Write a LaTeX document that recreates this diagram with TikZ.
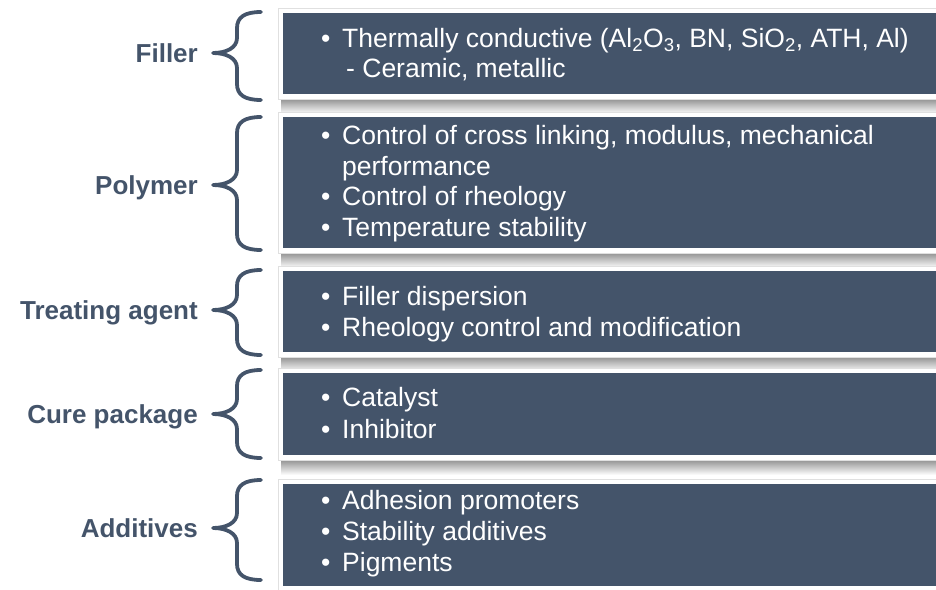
\documentclass[tikz,border=0pt]{standalone}
\usepackage{fontspec}
\setmainfont{Liberation Sans}
\definecolor{slate}{HTML}{44546A}
\tikzset{
  framebox/.style={fill=white, draw=black!12, line width=0.6pt},
  darkbox/.style={fill=slate},
  shadowbar/.style={top color=black!42, bottom color=white},
  lbl/.style={anchor=base east, inner sep=0pt, text=slate, font=\fontsize{26}{30}\selectfont\bfseries},
  txt/.style={anchor=base west, inner sep=0pt, text=white, font=\fontsize{26.5}{30.5}\selectfont},
  bul/.style={txt},
  bracestroke/.style={draw=slate, line width=3.8pt, line cap=round, line join=round}
}
\newcommand{\mkpanel}[2]{%
  \shade[shadowbar] (281,#2+5) rectangle (936,#2+20);
  \draw[framebox] (278,#1-5) rectangle (942,#2+5);
  \fill[darkbox] (283,#1) rectangle (936,#2);
}
\newcommand{\mkbrace}[3]{%
  \draw[bracestroke] (261,#1) .. controls (245,#1) and (237,#1+5) .. (237,#1+16)
    -- (237,#2-15) .. controls (237,#2-5) and (226,#2) .. (213,#2)
    .. controls (226,#2) and (237,#2+5) .. (237,#2+15)
    -- (237,#3-16) .. controls (237,#3-5) and (245,#3) .. (261,#3);
}
\newcommand{\bline}[3]{%
  \node[bul] (#1b) at (321,#2) {•};
  \node[txt] (#1) at (342,#2) {#3};
}
\begin{document}
\begin{tikzpicture}[x=1pt,y=-1pt]
\useasboundingbox (0,0) rectangle (936,589);
% panels
\mkpanel{13}{94}
\mkpanel{117}{248}
\mkpanel{271}{352}
\mkpanel{373}{455}
\mkpanel{484}{586}
% braces
\mkbrace{12}{53}{100}
\mkbrace{117}{185}{250}
\mkbrace{270}{310}{355}
\mkbrace{370}{414}{458}
\mkbrace{480}{528}{580}
% labels
\node[lbl] (lfiller) at (198,62) {Filler};
\node[lbl] (lpolymer) at (198,194) {Polymer};
\node[lbl] (ltreat) at (198,319) {Treating agent};
\node[lbl] (lcure) at (198,423) {Cure package};
\node[lbl] (ladd) at (198,537) {Additives};
% box 1
\bline{fa}{47}{Thermally conductive (Al\textsubscript{2}O\textsubscript{3}, BN, SiO\textsubscript{2}, ATH, Al)}
\node[txt] (fb) at (346,77) {- Ceramic, metallic};
% box 2
\bline{pa}{144}{Control of cross linking, modulus, mechanical}
\node[txt] (pb) at (342,175) {performance};
\bline{pc}{205}{Control of rheology}
\bline{pd}{236}{Temperature stability}
% box 3
\bline{ta}{305}{Filler dispersion}
\bline{tb}{336}{Rheology control and modification}
% box 4
\bline{ca}{406}{Catalyst}
\bline{cb}{438}{Inhibitor}
% box 5
\bline{aa}{509}{Adhesion promoters}
\bline{ab}{540}{Stability additives}
\bline{ac}{571}{Pigments}
\end{tikzpicture}
\end{document}
